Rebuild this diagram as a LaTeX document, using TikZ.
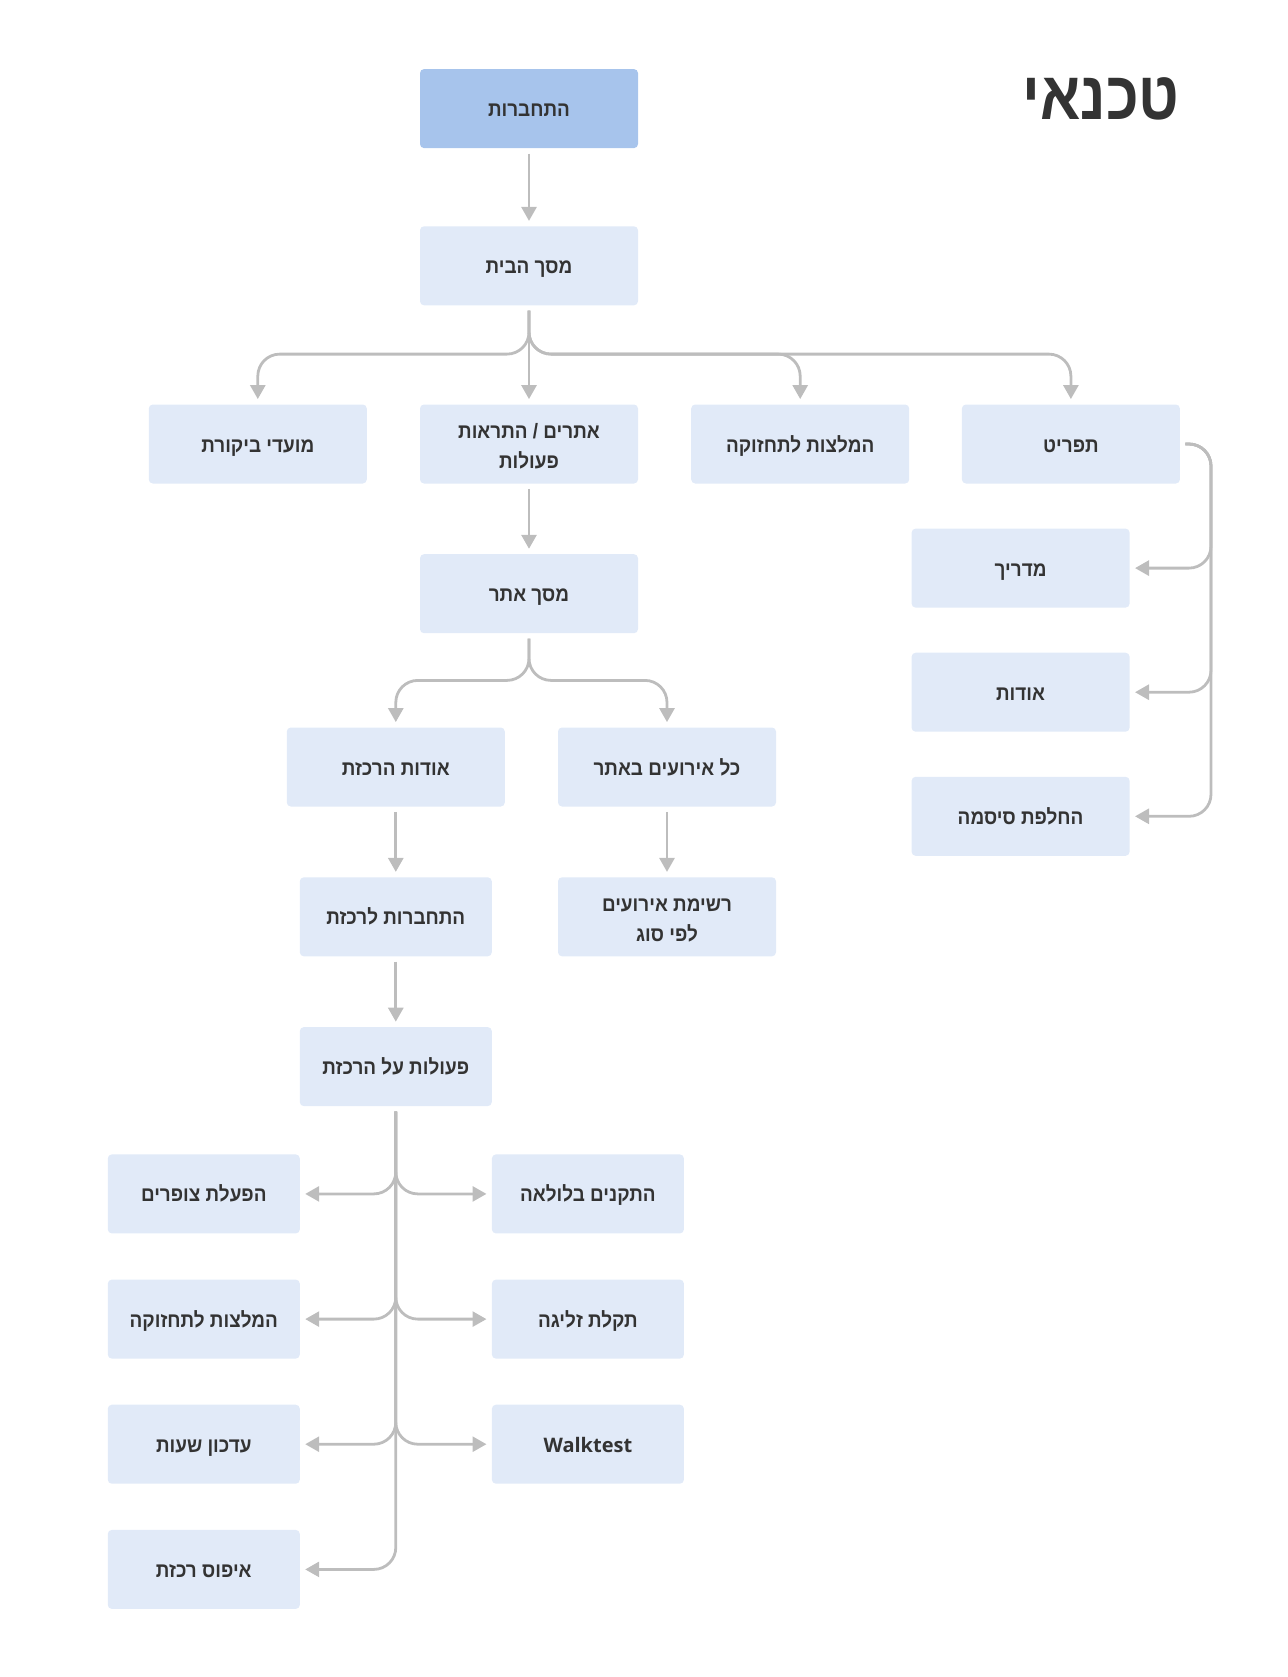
\documentclass[tikz,border=0pt]{standalone}
\usepackage{fontspec}
\newfontfamily\hebfont[Script=Hebrew, FakeStretch=0.91]{Liberation Sans}
\newfontfamily\titlefont[Script=Hebrew, FakeStretch=0.87]{Liberation Sans}
\newfontfamily\latfont{Open Sans}
\TeXXeTstate=1
\usepackage{tikz}
\usetikzlibrary{arrows.meta}
\definecolor{boxblue}{HTML}{E1EAF8}
\definecolor{topblue}{HTML}{A7C4EC}
\definecolor{linkgray}{HTML}{BDBDBD}
\definecolor{txtgray}{HTML}{333333}
\tikzset{
    screen/.style={rectangle, rounded corners=2pt, fill=boxblue, minimum width=109pt, minimum height=39.5pt, text=txtgray, align=center, font=\hebfont\bfseries\fontsize{10.4pt}{15pt}\selectfont,
        execute at begin node=\rule{0pt}{11pt}, execute at end node=\rule[-3pt]{0pt}{3pt}},
    narrow/.style={screen, minimum width=96pt},
    twoline/.style={execute at begin node=\rule{0pt}{27.5pt}},
    link/.style={draw=linkgray, line width=1.4pt, rounded corners=11pt, shorten <=2.5pt, shorten >=2.5pt, -{Triangle[width=7.5pt,length=7pt]}}
}
\begin{document}
\begin{tikzpicture}[x=0.5pt, y=-0.5pt]
\useasboundingbox (0,0) rectangle (1287,1677);
\node[inner sep=0pt, anchor=east, text=txtgray, font=\titlefont\bfseries\fontsize{34pt}{40pt}\selectfont] (title) at (1180,99) {\beginR טכנאי\endR};
% top of the tree
\node[screen, fill=topblue] (login) at (529,108.6) {\beginR התחברות\endR};
\node[screen] (home) at (529,265.8) {\beginR מסך הבית\endR};
\node[screen] (reviews) at (257.8,444) {\beginR מועדי ביקורת\endR};
\node[screen, twoline] (sites) at (529,444) {\beginR אתרים / התראות\endR\\\beginR פעולות\endR};
\node[screen] (tips) at (800.2,444) {\beginR המלצות לתחזוקה\endR};
\node[screen] (menu) at (1070.9,444) {\beginR תפריט\endR};
\node[screen] (guide) at (1020.6,568.1) {\beginR מדריך\endR};
\node[screen] (about) at (1020.6,692.2) {\beginR אודות\endR};
\node[screen] (passwd) at (1020.6,816.3) {\beginR החלפת סיסמה\endR};
\node[screen] (site) at (529,593.7) {\beginR מסך אתר\endR};
\node[screen] (hubinfo) at (395.8,767) {\beginR אודות הרכזת\endR};
\node[screen] (events) at (667,767) {\beginR כל אירועים באתר\endR};
\node[narrow] (hublogin) at (395.8,916.8) {\beginR התחברות לרכזת\endR};
\node[screen, twoline] (evlist) at (667,916.8) {\beginR רשימת אירועים\endR\\\beginR לפי סוג\endR};
\node[narrow] (actions) at (395.8,1066.6) {\beginR פעולות על הרכזת\endR};
% hub actions
\foreach \nm/\y/\txt in {sirens/1193.9/{הפעלת צופרים}, tipsb/1319.1/{המלצות לתחזוקה}, hours/1444.2/{עדכון שעות}, reset/1569.4/{איפוס רכזת}}{
    \node[narrow] (\nm) at (203.8,\y) {\beginR\txt\endR};
    \draw[link] (actions.south) -- (actions.south |- \nm) -- (\nm.east);
}
\foreach \nm/\y/\txt in {devices/1193.9/{\beginR התקנים בלולאה\endR}, tilt/1319.1/{\beginR תקלת זליגה\endR}, walk/1444.2/{{\latfont\bfseries\fontsize{10pt}{15pt}\selectfont Walktest}}}{
    \node[narrow] (\nm) at (587.9,\y) {\txt};
    \draw[link] (actions.south) -- (actions.south |- \nm) -- (\nm.west);
}
% connectors
\coordinate (hsplit) at (529,354.1);
\coordinate (ssplit) at (529,680.4);
\coordinate (bus) at (1211,444);
\draw[link] (login) -- (home);
\draw[link] (home) -- (sites);
\foreach \t in {reviews,tips,menu}
    \draw[link] (home.south) -- (home.south |- hsplit) -- (\t.north |- hsplit) -- (\t.north);
\foreach \t in {guide,about,passwd}
    \draw[link] (menu.east) -- (bus) -- (bus |- \t) -- (\t.east);
\draw[link] (sites) -- (site);
\foreach \t in {hubinfo,events}
    \draw[link] (site.south) -- (ssplit) -- (\t.north |- ssplit) -- (\t.north);
\draw[link] (hubinfo) -- (hublogin);
\draw[link] (events) -- (evlist);
\draw[link] (hublogin) -- (actions);
\end{tikzpicture}
\end{document}
